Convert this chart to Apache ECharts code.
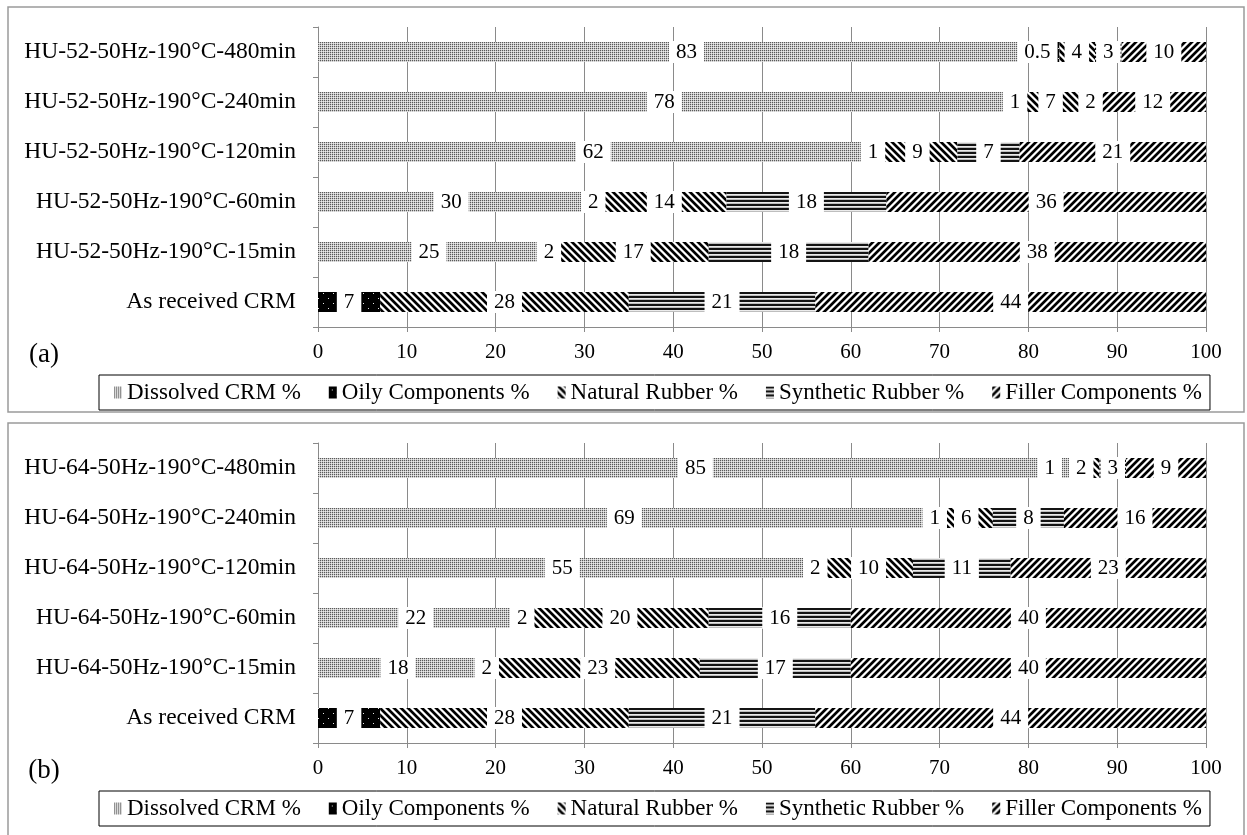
<!DOCTYPE html>
<html><head><meta charset="utf-8">
<script src="https://cdn.jsdelivr.net/npm/echarts/dist/echarts.min.js"></script>
<style>html,body{margin:0;padding:0;background:#fff}#c{width:1247px;height:835px}</style>
</head><body><div id="c"></div>
<script>
// ---------- data ----------
const categoriesA = ['As received CRM','HU-52-50Hz-190°C-15min','HU-52-50Hz-190°C-60min','HU-52-50Hz-190°C-120min','HU-52-50Hz-190°C-240min','HU-52-50Hz-190°C-480min'];
const categoriesB = ['As received CRM','HU-64-50Hz-190°C-15min','HU-64-50Hz-190°C-60min','HU-64-50Hz-190°C-120min','HU-64-50Hz-190°C-240min','HU-64-50Hz-190°C-480min'];
const seriesNames = ['Dissolved CRM %','Oily Components %','Natural Rubber %','Synthetic Rubber %','Filler Components %'];
const xTicks = [0,10,20,30,40,50,60,70,80,90,100];

const dissolvedA = [0,25,30,62,78,83];
const oilyA      = [7,2,2,1,1,0.5];
const naturalA   = [28,17,14,9,7,4];
const syntheticA = [21,18,18,7,2,3];
const fillerA    = [44,38,36,21,12,10];

const dissolvedB = [0,18,22,55,69,85];
const oilyB      = [7,2,2,2,1,1];
const naturalB   = [28,23,20,10,6,2];
const syntheticB = [21,17,16,11,8,3];
const fillerB    = [44,40,40,23,16,9];

const panelLabels = ['(a)','(b)'];

// ---------- patterns ----------
function tile(w,h,fn){
  const c=document.createElement('canvas');c.width=w;c.height=h;
  const ctx=c.getContext('2d');const img=ctx.createImageData(w,h);
  for(let y=0;y<h;y++)for(let x=0;x<w;x++){const v=fn(x,y);const i=(y*w+x)*4;img.data[i]=img.data[i+1]=img.data[i+2]=v;img.data[i+3]=255;}
  ctx.putImageData(img,0,0);return c;
}
const patDissolved = tile(2,2,(x,y)=>[[90,200],[200,235]][y][x]);
const patOily = tile(10,10,(x,y)=>((x===3&&y===3)||(x===8&&y===8)?230:0));
const patNatural = tile(7,7,(x,y)=>{const d=((x-y)%7+7)%7;return d<3?0:(d===3||d===6?150:255);});
const patSynth = tile(4,4,(x,y)=>(y<2?20:(y===2?235:190)));
const patFiller = tile(7,7,(x,y)=>{const d=(x+y)%7;return d<3?0:(d===3||d===6?150:255);});
const patterns=[patDissolved,patOily,patNatural,patSynth,patFiller];

const FONT='"Liberation Serif","Times New Roman",serif';
const GRAY='#8a8a8a';
const LABEL_SIZE=21, LABEL_PAD=7, LABEL_GAP=7;
const GRID_LEFT=318, GRID_RIGHT_EDGE=1206;

function buildData(arr){return arr.map(v=>v===0?{value:v,label:{show:false}}:v);}

// keep neighbouring value labels of a bar from overlapping: push to the left
const mctx=document.createElement('canvas').getContext('2d');
mctx.font=LABEL_SIZE+'px '+FONT;
function computeShifts(vals){
  const ppu=(GRID_RIGHT_EDGE-GRID_LEFT)/100;
  const sh=vals.map(a=>a.map(()=>0));
  const rows=vals[0].length;
  for(let j=0;j<rows;j++){
    let cum=0;const labs=[];
    for(let i=0;i<vals.length;i++){
      const v=vals[i][j];
      if(v>0){const s=cum,e=Math.min(cum+v,100);labs.push({i,c:(s+e)/2*ppu,w:mctx.measureText(String(v)).width+2*LABEL_PAD,d:0});}
      cum+=v;
    }
    for(let k=labs.length-2;k>=0;k--){
      const nx=labs[k+1];const limit=nx.c+nx.d-nx.w/2-LABEL_GAP;
      const right=labs[k].c+labs[k].w/2;
      if(right>limit)labs[k].d=limit-right;
    }
    labs.forEach(l=>{sh[l.i][j]=l.d;});
  }
  return sh;
}

const panels=[
  {cats:categoriesA,vals:[dissolvedA,oilyA,naturalA,syntheticA,fillerA]},
  {cats:categoriesB,vals:[dissolvedB,oilyB,naturalB,syntheticB,fillerB]}
];
const OFF=416;
const grids=[],xAxes=[],yAxes=[],series=[],legends=[],graphics=[];
panels.forEach((p,k)=>{
  const top=27+k*OFF;
  const shifts=computeShifts(p.vals);
  grids.push({left:GRID_LEFT,right:1247-GRID_RIGHT_EDGE,top:top,height:300,containLabel:false});
  xAxes.push({type:'value',gridIndex:k,min:0,max:100,interval:10,
    axisLine:{show:true,lineStyle:{color:GRAY,width:1}},
    axisTick:{show:true,length:5,lineStyle:{color:GRAY}},
    splitLine:{show:true,lineStyle:{color:GRAY,width:1}},
    axisLabel:{color:'#000',fontFamily:FONT,fontSize:21,margin:15,
      formatter:v=>xTicks.includes(v)?String(v):''}});
  yAxes.push({type:'category',gridIndex:k,data:p.cats,
    axisLine:{show:true,lineStyle:{color:GRAY,width:1}},
    axisTick:{show:true,length:5,alignWithLabel:false,lineStyle:{color:GRAY}},
    splitLine:{show:false},
    axisLabel:{color:'#000',fontFamily:FONT,fontSize:23.5,margin:22}});
  seriesNames.forEach((n,i)=>{
    series.push({type:'bar',name:n,stack:'s'+k,xAxisIndex:k,yAxisIndex:k,barWidth:20,
      data:buildData(p.vals[i]),
      itemStyle:{color:{image:patterns[i],repeat:'repeat'}},
      label:{show:true,position:'inside',color:'#000',fontFamily:FONT,fontSize:LABEL_SIZE,
        backgroundColor:'#fff',padding:[0,LABEL_PAD],lineHeight:22},
      labelLayout:(params)=>({dx:shifts[i][params.dataIndex]||0}),
      emphasis:{disabled:true}});
  });
  legends.push({data:seriesNames,left:99,top:375+k*OFF,orient:'horizontal',
    padding:[6,8,6,15],itemGap:28,itemWidth:8,itemHeight:12,icon:'rect',
    borderColor:'#000',borderWidth:1,backgroundColor:'#fff',
    textStyle:{color:'#000',fontFamily:FONT,fontSize:23},selectedMode:false});
  graphics.push({type:'rect',shape:{x:8,y:7+k*OFF,width:1236,height:k===0?405:420},
    style:{fill:'none',stroke:'#9a9a9a',lineWidth:1.5},silent:true,z:-1});
  graphics.push({type:'text',x:44,y:355+k*OFF,style:{text:panelLabels[k],font:'27px '+FONT,fill:'#000',textAlign:'center',textVerticalAlign:'middle'}});
});

const chart=echarts.init(document.getElementById('c'),null,{renderer:'canvas'});
chart.setOption({animation:false,backgroundColor:'#fff',grid:grids,xAxis:xAxes,yAxis:yAxes,series:series,legend:legends,graphic:graphics});
</script></body></html>
